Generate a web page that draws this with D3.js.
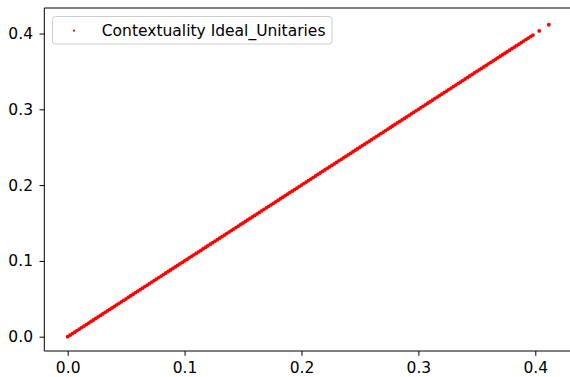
<!DOCTYPE html>
<html>
<head>
<meta charset="utf-8">
<script src="https://cdn.jsdelivr.net/npm/d3@7"></script>
<style>
  html, body { margin: 0; padding: 0; background: #fff; overflow: hidden; }
  svg { display: block; font-family: "DejaVu Sans", sans-serif; }
</style>
</head>
<body>
<svg id="chart" width="570" height="377"></svg>
<script>
// Contextuality measured for each ideal unitary (plotted against itself).
const contextuality = [
  0.000, 0.002, 0.004, 0.006, 0.008, 0.010, 0.012, 0.014, 0.016, 0.018,
  0.020, 0.022, 0.024, 0.026, 0.028, 0.030, 0.032, 0.034, 0.036, 0.038,
  0.040, 0.042, 0.044, 0.046, 0.048, 0.050, 0.052, 0.054, 0.056, 0.058,
  0.060, 0.062, 0.064, 0.066, 0.068, 0.070, 0.072, 0.074, 0.076, 0.078,
  0.080, 0.082, 0.084, 0.086, 0.088, 0.090, 0.092, 0.094, 0.096, 0.098,
  0.100, 0.102, 0.104, 0.106, 0.108, 0.110, 0.112, 0.114, 0.116, 0.118,
  0.120, 0.122, 0.124, 0.126, 0.128, 0.130, 0.132, 0.134, 0.136, 0.138,
  0.140, 0.142, 0.144, 0.146, 0.148, 0.150, 0.152, 0.154, 0.156, 0.158,
  0.160, 0.162, 0.164, 0.166, 0.168, 0.170, 0.172, 0.174, 0.176, 0.178,
  0.180, 0.182, 0.184, 0.186, 0.188, 0.190, 0.192, 0.194, 0.196, 0.198,
  0.200, 0.202, 0.204, 0.206, 0.208, 0.210, 0.212, 0.214, 0.216, 0.218,
  0.220, 0.222, 0.224, 0.226, 0.228, 0.230, 0.232, 0.234, 0.236, 0.238,
  0.240, 0.242, 0.244, 0.246, 0.248, 0.250, 0.252, 0.254, 0.256, 0.258,
  0.260, 0.262, 0.264, 0.266, 0.268, 0.270, 0.272, 0.274, 0.276, 0.278,
  0.280, 0.282, 0.284, 0.286, 0.288, 0.290, 0.292, 0.294, 0.296, 0.298,
  0.300, 0.302, 0.304, 0.306, 0.308, 0.310, 0.312, 0.314, 0.316, 0.318,
  0.320, 0.322, 0.324, 0.326, 0.328, 0.330, 0.332, 0.334, 0.336, 0.338,
  0.340, 0.342, 0.344, 0.346, 0.348, 0.350, 0.352, 0.354, 0.356, 0.358,
  0.360, 0.362, 0.364, 0.366, 0.368, 0.370, 0.372, 0.374, 0.376, 0.378,
  0.380, 0.382, 0.384, 0.386, 0.388, 0.390, 0.392, 0.394, 0.396, 0.398,
  0.4034, 0.4116
];
const xTicks = [0.0, 0.1, 0.2, 0.3, 0.4];
const yTicks = [0.0, 0.1, 0.2, 0.3, 0.4];
const seriesLabel = "Contextuality Ideal_Unitaries";

const svg = d3.select("#chart");
const plot = { left: 44.3, right: 574, top: 8, bottom: 351 };
const fontSize = "15.5px";

const x = d3.scaleLinear().domain([-0.0200, 0.4331]).range([plot.left, plot.right]);
const y = d3.scaleLinear().domain([-0.0189, 0.4337]).range([plot.bottom, plot.top]);

// points
svg.append("g")
  .selectAll("circle")
  .data(contextuality)
  .join("circle")
  .attr("cx", d => x(d))
  .attr("cy", d => y(d))
  .attr("r", 1.9)
  .attr("fill", "#ff0000");

// axes
const fmt = d3.format(".1f");
const xAxis = svg.append("g")
  .attr("transform", `translate(0,${plot.bottom})`)
  .call(d3.axisBottom(x).tickValues(xTicks).tickFormat(fmt).tickSize(4.8).tickPadding(6));
const yAxis = svg.append("g")
  .attr("transform", `translate(${plot.left},0)`)
  .call(d3.axisLeft(y).tickValues(yTicks).tickFormat(fmt).tickSize(4.8).tickPadding(6.5));

[xAxis, yAxis].forEach(g => {
  g.select(".domain").remove();
  g.selectAll(".tick line").attr("stroke", "#000").attr("stroke-width", 1);
  g.selectAll(".tick text")
    .attr("fill", "#000")
    .style("font-family", "'DejaVu Sans', sans-serif")
    .style("font-size", fontSize);
});

// spines (left, bottom, top; right edge falls outside the canvas)
const spine = svg.append("g").attr("stroke", "#000").attr("stroke-width", 1).attr("fill", "none");
spine.append("line").attr("x1", plot.left).attr("x2", plot.left).attr("y1", plot.top).attr("y2", plot.bottom);
spine.append("line").attr("x1", plot.left).attr("x2", plot.right).attr("y1", plot.bottom).attr("y2", plot.bottom);
spine.append("line").attr("x1", plot.left).attr("x2", plot.right).attr("y1", plot.top).attr("y2", plot.top);
spine.append("line").attr("x1", plot.right).attr("x2", plot.right).attr("y1", plot.top).attr("y2", plot.bottom);

// legend
const legend = svg.append("g").attr("transform", "translate(52.5,16.5)");
legend.append("rect")
  .attr("width", 279.5).attr("height", 27.5)
  .attr("rx", 3).attr("ry", 3)
  .attr("fill", "#fff").attr("fill-opacity", 0.8)
  .attr("stroke", "#cccccc").attr("stroke-width", 1);
legend.append("circle")
  .attr("cx", 21.5).attr("cy", 14.2)
  .attr("r", 1.1)
  .attr("fill", "#ff0000");
legend.append("text")
  .attr("x", 49.3).attr("y", 19.2)
  .attr("fill", "#000")
  .style("font-size", fontSize)
  .text(seriesLabel);
</script>
</body>
</html>
